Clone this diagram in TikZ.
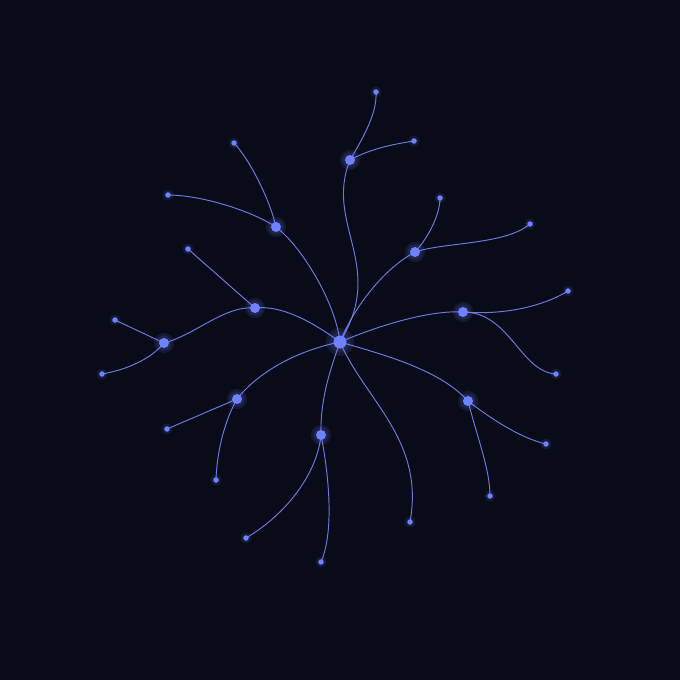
\documentclass[tikz,border=0pt]{standalone}
\definecolor{bgc}{HTML}{0A0B18}
\definecolor{nodec}{HTML}{6E82FF}
\definecolor{linkc}{HTML}{7886FA}
\pgfdeclarelayer{back}
\pgfsetlayers{back,main}
\begin{document}
\begin{tikzpicture}[x=1pt,y=-1pt,
  link/.style={draw=linkc, line width=0.95pt, draw opacity=0.9},
  hub/.style={circle, fill=nodec, inner sep=0pt, minimum size=13pt},
  mid/.style={circle, fill=nodec, inner sep=0pt, minimum size=10pt},
  leaf/.style={circle, fill=nodec, inner sep=0pt, minimum size=5.5pt},
  glow/.style={fill=nodec, fill opacity=0.12}]
\begin{pgfonlayer}{back}
\fill[bgc] (0,0) rectangle (680,680);
\end{pgfonlayer}
\useasboundingbox (0,0) rectangle (680,680);
% nodes
\node[hub] (C) at (340,342) {};
\node[mid] (A) at (350,160) {};
\node[mid] (B) at (415,252) {};
\node[mid] (D) at (463,312) {};
\node[mid] (E) at (468,401) {};
\node[mid] (F) at (321,435) {};
\node[mid] (G) at (237,399) {};
\node[mid] (I) at (255,308) {};
\node[mid] (J) at (276,227) {};
\node[mid] (H) at (164,343) {};
\node[leaf] (a1) at (376,92) {};
\node[leaf] (a2) at (414,141) {};
\node[leaf] (b1) at (440,198) {};
\node[leaf] (b2) at (530,224) {};
\node[leaf] (d1) at (568,291) {};
\node[leaf] (d2) at (556,374) {};
\node[leaf] (e1) at (546,444) {};
\node[leaf] (e2) at (490,496) {};
\node[leaf] (L) at (410,522) {};
\node[leaf] (f1) at (246,538) {};
\node[leaf] (f2) at (321,562) {};
\node[leaf] (g1) at (167,429) {};
\node[leaf] (g2) at (216,480) {};
\node[leaf] (i1) at (188,249) {};
\node[leaf] (h1) at (115,320) {};
\node[leaf] (h2) at (102,374) {};
\node[leaf] (j1) at (234,143) {};
\node[leaf] (j2) at (168,195) {};
\begin{pgfonlayer}{back}
% glows
\foreach \n in {A,B,D,E,F,G,I,J,H} {
  \fill[glow] (\n) circle (10);
  \fill[glow] (\n) circle (7.5);
}
\fill[glow] (C) circle (14);
\fill[glow] (C) circle (10.5);
\foreach \n in {a1,a2,b1,b2,d1,d2,e1,e2,L,f1,f2,g1,g2,i1,h1,h2,j1,j2} {
  \fill[glow] (\n) circle (5.5);
}
% links
\draw[link] (C.center) .. controls (387,265) and (324,225) .. (A.center);
\draw[link] (A.center) .. controls (368,130) and (377,110) .. (a1.center);
\draw[link] (A.center) .. controls (372,148) and (395,144) .. (a2.center);
\draw[link] (C.center) .. controls (355,305) and (385,268) .. (B.center);
\draw[link] (B.center) .. controls (428,238) and (440,215) .. (b1.center);
\draw[link] (B.center) .. controls (445,242) and (505,245) .. (b2.center);
\draw[link] (C.center) .. controls (380,325) and (430,310) .. (D.center);
\draw[link] (D.center) .. controls (500,315) and (540,308) .. (d1.center);
\draw[link] (D.center) .. controls (510,312) and (520,372) .. (d2.center);
\draw[link] (C.center) .. controls (385,355) and (440,370) .. (E.center);
\draw[link] (E.center) .. controls (490,418) and (520,438) .. (e1.center);
\draw[link] (E.center) .. controls (478,440) and (490,470) .. (e2.center);
\draw[link] (C.center) .. controls (365,400) and (425,440) .. (L.center);
\draw[link] (C.center) .. controls (330,370) and (320,400) .. (F.center);
\draw[link] (F.center) .. controls (317,475) and (285,515) .. (f1.center);
\draw[link] (F.center) .. controls (328,470) and (335,530) .. (f2.center);
\draw[link] (C.center) .. controls (300,350) and (260,370) .. (G.center);
\draw[link] (G.center) -- (g1.center);
\draw[link] (G.center) .. controls (225,420) and (217,450) .. (g2.center);
\draw[link] (C.center) .. controls (310,320) and (280,305) .. (I.center);
\draw[link] (I.center) -- (i1.center);
\draw[link] (I.center) .. controls (225,305) and (195,335) .. (H.center);
\draw[link] (H.center) -- (h1.center);
\draw[link] (H.center) .. controls (150,360) and (125,370) .. (h2.center);
\draw[link] (C.center) .. controls (335,300) and (300,245) .. (J.center);
\draw[link] (J.center) .. controls (270,200) and (250,160) .. (j1.center);
\draw[link] (J.center) .. controls (250,210) and (200,195) .. (j2.center);
\end{pgfonlayer}
\end{tikzpicture}
\end{document}
